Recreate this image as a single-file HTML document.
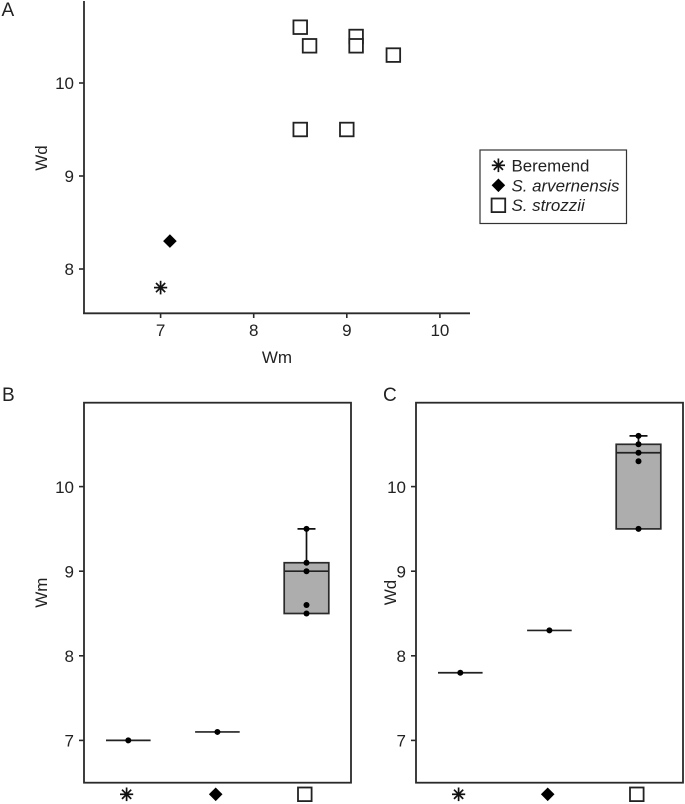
<!DOCTYPE html>
<html>
<head>
<meta charset="utf-8">
<style>
html,body{margin:0;padding:0;background:#fff;}
svg{display:block;}
text{font-family:"Liberation Sans",sans-serif;fill:#222;}
</style>
</head>
<body>
<svg id="chart" xmlns="http://www.w3.org/2000/svg" width="685" height="804" viewBox="0 0 685 804"></svg>
<script>
var scatterSpecies = ["Beremend", "S. arvernensis", "S. strozzii"];
var scatterMarkers = ["star", "diamond", "square"];
var scatterWmBeremend = [7.0];
var scatterWdBeremend = [7.8];
var scatterWmArvernensis = [7.1];
var scatterWdArvernensis = [8.3];
var scatterWmStrozzii = [8.5, 8.6, 9.1, 9.1, 9.5, 8.5, 9.0];
var scatterWdStrozzii = [10.6, 10.4, 10.5, 10.4, 10.3, 9.5, 9.5];
var xTicksA = [7, 8, 9, 10];
var yTicksA = [8, 9, 10];
var yTicksBox = [7, 8, 9, 10];
var wmGroups = [[7.0], [7.1], [9.5, 9.1, 9.0, 8.6, 8.5]];
var wdGroups = [[7.8], [8.3], [10.6, 10.5, 10.4, 10.3, 9.5]];
var wmBoxLow = [7.0, 7.1, 8.5];
var wmBoxMedian = [7.0, 7.1, 9.0];
var wmBoxHigh = [7.0, 7.1, 9.1];
var wmWhiskerHigh = [7.0, 7.1, 9.5];
var wmWhiskerLow = [7.0, 7.1, 8.5];
var wdBoxLow = [7.8, 8.3, 9.5];
var wdBoxMedian = [7.8, 8.3, 10.4];
var wdBoxHigh = [7.8, 8.3, 10.5];
var wdWhiskerHigh = [7.8, 8.3, 10.6];
var wdWhiskerLow = [7.8, 8.3, 9.5];

var svg = document.getElementById('chart');
var NS = 'http://www.w3.org/2000/svg';
var INK = '#2a2a2a';

function make(tag, attrs, parent) {
  var e = document.createElementNS(NS, tag);
  for (var k in attrs) e.setAttribute(k, attrs[k]);
  (parent || svg).appendChild(e);
  return e;
}
function line(x1, y1, x2, y2, w, parent, color) {
  var e = make('line', {x1: x1, y1: y1, x2: x2, y2: y2, stroke: color || INK, 'stroke-width': w}, parent);
  
  return e;
}
function label(str, x, y, size, anchor, parent, extra) {
  var e = make('text', {x: x, y: y, 'font-size': size, 'text-anchor': anchor}, parent);
  if (extra) for (var k in extra) e.setAttribute(k, extra[k]);
  e.textContent = str;
  
  return e;
}
function marker(kind, cx, cy, parent) {
  var g = make('g', {}, parent);
  if (kind === 'star') {
    line(cx - 6.6, cy, cx + 6.6, cy, 1.7, g, '#111');
    line(cx, cy - 6.8, cx, cy + 6.8, 1.7, g, '#111');
    line(cx - 4.6, cy - 4.6, cx + 4.6, cy + 4.6, 1.7, g, '#111');
    line(cx - 4.6, cy + 4.6, cx + 4.6, cy - 4.6, 1.7, g, '#111');
  } else if (kind === 'diamond') {
    var r = 6.8;
    make('polygon', {points: [cx, cy - r, cx + r, cy, cx, cy + r, cx - r, cy].join(','), fill: '#000'}, g);
  } else {
    var h = 6.8;
    make('rect', {x: cx - h, y: cy - h, width: 2 * h, height: 2 * h, fill: '#fff', stroke: '#222', 'stroke-width': 1.8}, g);
  }
  
  return g;
}

/* Panel A */
var xA = function (v) { return 160.6 + (v - 7) * 93.1; };
var yA = function (v) { return 83 + (10 - v) * 93; };

var panelA = make('g', {});



var panelLetterA = label('A', 1.5, 16, 19, 'start', panelA);


var yAxisA = line(84, 1, 84, 314, 1.8, panelA);

var xAxisA = line(83.1, 313.3, 470, 313.3, 1.8, panelA);


xTicksA.forEach(function (t) {
  var tick = line(xA(t), 313, xA(t), 318, 1.6, panelA);
  
  var txt = label(String(t), xA(t), 336, 17, 'middle', panelA);
  
});
yTicksA.forEach(function (t) {
  var tick = line(79, yA(t), 84, yA(t), 1.6, panelA);
  
  var txt = label(String(t), 74, yA(t) + 6.2, 17, 'end', panelA);
  
});
var xTitleA = label('Wm', 277, 363, 17, 'middle', panelA);

var yTitleA = label('Wd', 47, 158, 17, 'middle', panelA, {transform: 'rotate(-90 47 158)'});


scatterWmBeremend.forEach(function (v, i) {
  var m = marker(scatterMarkers[0], xA(v), yA(scatterWdBeremend[i]), panelA);
  
});
scatterWmArvernensis.forEach(function (v, i) {
  var m = marker(scatterMarkers[1], xA(v), yA(scatterWdArvernensis[i]), panelA);
  
});
scatterWmStrozzii.forEach(function (v, i) {
  var m = marker(scatterMarkers[2], xA(v), yA(scatterWdStrozzii[i]), panelA);
  
});

/* Legend */
var legend = make('g', {});


var legendBox = make('rect', {x: 480, y: 150, width: 146.5, height: 73.5, fill: '#fff', stroke: '#333', 'stroke-width': 1.2}, legend);


scatterSpecies.forEach(function (name, i) {
  var m = marker(scatterMarkers[i], 498.4, 165.3 + i * 20, legend);
  
  var extra = i === 0 ? {} : {'font-style': 'italic'};
  var t = label(name, 511.5, 171.7 + i * 19.7, 16.9, 'start', legend, extra);
  
});

/* Box panels */
function boxPanel(cfg) {
  var yS = function (v) { return 740.4 - (v - 7) * 84.6; };
  var g = make('g', {});
  
  

  var letter = label(cfg.letter, cfg.letterX, 401, 19, 'start', g);
  

  var frame = make('rect', {x: cfg.left, y: 402.7, width: 267, height: 380, fill: '#fff', stroke: INK, 'stroke-width': 1.8}, g);
  
  

  yTicksBox.forEach(function (t) {
    var tick = line(cfg.left - 5, yS(t), cfg.left, yS(t), 1.6, g);
    
    var txt = label(String(t), cfg.left - 10, yS(t) + 6.2, 17, 'end', g);
    
  });
  var title = label(cfg.title, cfg.titleX, cfg.titleY, 17, 'middle', g, {transform: 'rotate(-90 ' + cfg.titleX + ' ' + cfg.titleY + ')'});
  

  cfg.groups.forEach(function (vals, i) {
    var cx = cfg.left + 44.3 + i * 89.1;
    var halfBox = 22.3, halfCap = 9;
    if (cfg.wHigh[i] !== cfg.q3[i]) {
      var wu = line(cx, yS(cfg.q3[i]), cx, yS(cfg.wHigh[i]), 1.7, g, '#111');
      
      var cap = line(cx - halfCap, yS(cfg.wHigh[i]), cx + halfCap, yS(cfg.wHigh[i]), 1.7, g, '#111');
      
    }
    if (cfg.wLow[i] !== cfg.q1[i]) {
      var wl = line(cx, yS(cfg.q1[i]), cx, yS(cfg.wLow[i]), 1.7, g, '#111');
      
    }
    if (cfg.q3[i] !== cfg.q1[i]) {
      var box = make('rect', {x: cx - halfBox, y: yS(cfg.q3[i]), width: 2 * halfBox, height: yS(cfg.q1[i]) - yS(cfg.q3[i]), fill: '#adadad', stroke: '#2a2a2a', 'stroke-width': 1.7}, g);
      
      
    }
    var med = line(cx - halfBox, yS(cfg.med[i]), cx + halfBox, yS(cfg.med[i]), 1.7, g, '#222');
    
    vals.forEach(function (v) {
      var dot = make('circle', {cx: cx, cy: yS(v), r: 3, fill: '#000'}, g);
      
      
    });
    var m = marker(scatterMarkers[i], cx - 1.7, 794.3, g);
    
  });
}

boxPanel({
  name: 'box-panel-b', letter: 'B', letterX: 2, left: 84, title: 'Wm', titleX: 47, titleY: 592.7,
  groups: wmGroups, q1: wmBoxLow, med: wmBoxMedian, q3: wmBoxHigh, wHigh: wmWhiskerHigh, wLow: wmWhiskerLow
});
boxPanel({
  name: 'box-panel-c', letter: 'C', letterX: 383, left: 416, title: 'Wd', titleX: 396, titleY: 592.5,
  groups: wdGroups, q1: wdBoxLow, med: wdBoxMedian, q3: wdBoxHigh, wHigh: wdWhiskerHigh, wLow: wdWhiskerLow
});
</script>
</body>
</html>
